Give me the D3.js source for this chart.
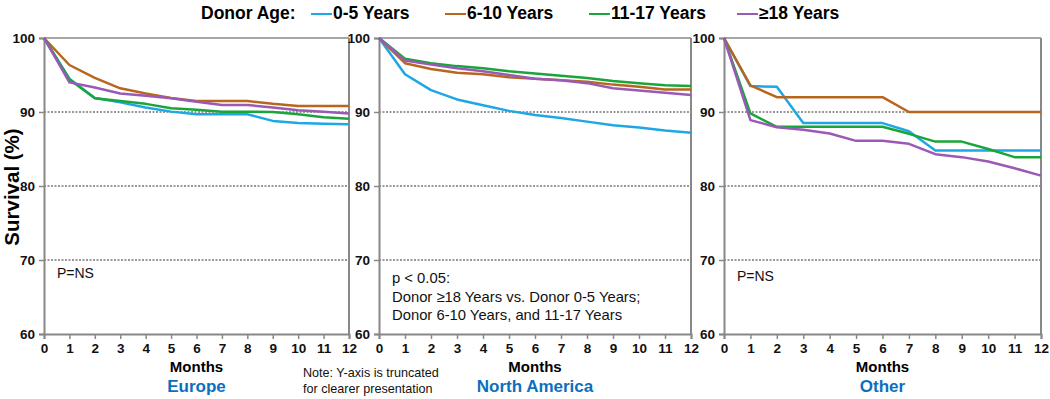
<!DOCTYPE html>
<html>
<head>
<meta charset="utf-8">
<script src="https://cdn.jsdelivr.net/npm/d3@7"></script>
<style>
  body { margin: 0; background: #fff; }
  text { font-family: "Liberation Sans", Arial, sans-serif; }
</style>
</head>
<body>
<div id="chart"></div>
<script>
// months and tick labels
const months = [0,1,2,3,4,5,6,7,8,9,10,11,12];
const yTicks = [60,70,80,90,100];
const groups = ["0-5 Years", "6-10 Years", "11-17 Years", "\u226518 Years"];
const groupColors = ["#1ea7e4", "#b8661e", "#1aa53a", "#9b59b6"];

// Europe survival (%) per month
const europe_0_5   = [100,94.5,91.9,91.3,90.6,90.05,89.7,89.7,89.7,88.8,88.5,88.4,88.35];
const europe_6_10  = [100,96.35,94.6,93.2,92.5,91.9,91.5,91.5,91.5,91.1,90.8,90.8,90.8];
const europe_11_17 = [100,94.4,91.85,91.5,91.1,90.5,90.3,90.05,90.05,90.0,89.7,89.3,89.1];
const europe_18    = [100,94.0,93.3,92.5,92.2,91.85,91.4,90.95,90.95,90.6,90.25,90.05,89.8];

// North America survival (%) per month
const na_0_5   = [100,95.1,92.95,91.7,90.9,90.15,89.6,89.2,88.7,88.2,87.9,87.5,87.2];
const na_6_10  = [100,96.6,95.8,95.3,95.1,94.7,94.5,94.3,94.1,93.7,93.4,93.05,93.05];
const na_11_17 = [100,97.2,96.6,96.2,95.9,95.5,95.2,94.9,94.6,94.2,93.9,93.6,93.5];
const na_18    = [100,96.95,96.4,95.9,95.5,95.0,94.5,94.3,93.9,93.2,92.9,92.6,92.3];

// Other survival (%) per month
const other_0_5   = [100,93.5,93.4,88.5,88.5,88.5,88.5,87.4,84.8,84.8,84.8,84.8,84.8];
const other_6_10  = [100,93.6,92.0,92.0,92.0,92.0,92.0,90.0,90.0,90.0,90.0,90.0,90.0];
const other_11_17 = [100,89.8,88.0,88.0,88.0,88.0,88.0,87.05,86.0,86.0,85.0,83.9,83.9];
const other_18    = [100,88.9,87.95,87.6,87.1,86.1,86.1,85.7,84.3,83.9,83.3,82.4,81.4];

const panels = [
    {name: "Europe", left: 44, right: 349, series: [europe_0_5, europe_6_10, europe_11_17, europe_18],
     note: ["P=NS"], noteY: 278},
    {name: "North America", left: 379, right: 691, series: [na_0_5, na_6_10, na_11_17, na_18],
     note: ["p < 0.05:", "Donor \u226518 Years vs. Donor 0-5 Years;", "Donor 6-10 Years, and 11-17 Years"], noteY: 283},
    {name: "Other", left: 724, right: 1041, series: [other_0_5, other_6_10, other_11_17, other_18],
     note: ["P=NS"], noteY: 281}
];

const width = 1050, height = 399;
const top_y = 38, bottom_y = 334;

const svg = d3.select("#chart")
    .append("svg")
    .attr("width", width)
    .attr("height", height);

// legend
const legend = svg.append("g");
legend.append("text")
    .attr("x", 201).attr("y", 19)
    .attr("font-size", 17.5).attr("font-weight", "bold")
    .text("Donor Age:");
const legendX = [311, 445, 589, 737];
groups.forEach((g, i) => {
    legend.append("line")
        .attr("x1", legendX[i]).attr("x2", legendX[i] + 21)
        .attr("y1", 14).attr("y2", 14)
        .attr("stroke", groupColors[i]).attr("stroke-width", 2);
    legend.append("text")
        .attr("x", legendX[i] + 22).attr("y", 19)
        .attr("font-size", 17.5).attr("font-weight", "bold")
        .text(g);
});

// y axis title
svg.append("text")
    .attr("transform", `translate(19,187) rotate(-90)`)
    .attr("text-anchor", "middle")
    .attr("font-size", 20.5).attr("font-weight", "bold")
    .text("Survival (%)");

panels.forEach(p => {
    let x = d3.scaleLinear().domain([0, 12]).range([p.left, p.right]);
    let y = d3.scaleLinear().domain([60, 100]).range([bottom_y, top_y]);

    let g = svg.append("g");

    // dotted grid lines
    g.selectAll(".grid")
        .data([70, 80, 90])
        .join("line")
        .attr("x1", x(0)).attr("x2", x(12))
        .attr("y1", d => y(d)).attr("y2", d => y(d))
        .attr("stroke", "#333").attr("stroke-width", 1)
        .attr("stroke-dasharray", "2,1.5");

    // frame top and right
    g.append("line")
        .attr("x1", x(0)).attr("x2", x(12))
        .attr("y1", y(100)).attr("y2", y(100))
        .attr("stroke", "#888").attr("stroke-width", 1.5);
    g.append("line")
        .attr("x1", x(12)).attr("x2", x(12))
        .attr("y1", y(100)).attr("y2", y(60))
        .attr("stroke", "#888").attr("stroke-width", 2);

    // axes
    let yAxis = g.append("g")
        .attr("transform", `translate(${x(0)},0)`)
        .call(d3.axisLeft(y).tickValues(yTicks).tickSize(5).tickPadding(4));
    let xAxis = g.append("g")
        .attr("transform", `translate(0,${y(60)})`)
        .call(d3.axisBottom(x).tickValues(months).tickSize(5).tickPadding(4));
    [xAxis, yAxis].forEach(a => {
        a.select(".domain").attr("stroke", "#888").attr("stroke-width", 2);
        a.selectAll(".tick line").attr("stroke", "#888").attr("stroke-width", 1.5);
        a.selectAll("text")
            .attr("font-family", "Liberation Sans, Arial, sans-serif")
            .attr("font-size", 13.5).attr("font-weight", "bold").attr("fill", "#111");
    });

    // survival lines
    let line = d3.line()
        .x((d, i) => x(months[i]))
        .y(d => y(d));
    g.selectAll(".series")
        .data(p.series)
        .join("path")
        .attr("fill", "none")
        .attr("stroke", (d, i) => groupColors[i])
        .attr("stroke-width", 2.5)
        .attr("stroke-linejoin", "round")
        .attr("d", line);

    // annotation
    p.note.forEach((t, i) => {
        g.append("text")
            .attr("x", x(0) + 13).attr("y", p.noteY + i * 18.5)
            .attr("font-size", p.note.length > 1 ? 14.8 : 14)
            .attr("fill", "#111")
            .text(t);
    });

    // labels
    let cx = (x(0) + x(12)) / 2;
    g.append("text")
        .attr("x", cx).attr("y", 372)
        .attr("text-anchor", "middle")
        .attr("font-size", 15).attr("font-weight", "bold")
        .text("Months");
    g.append("text")
        .attr("x", cx).attr("y", 392)
        .attr("text-anchor", "middle")
        .attr("font-size", 17).attr("font-weight", "bold")
        .attr("fill", "#0b6fc0")
        .text(p.name);
});

// note under the first panel
svg.append("text")
    .attr("x", 303).attr("y", 377)
    .attr("font-size", 12.6).attr("fill", "#111")
    .text("Note: Y-axis is truncated");
svg.append("text")
    .attr("x", 303).attr("y", 393)
    .attr("font-size", 12.6).attr("fill", "#111")
    .text("for clearer presentation");
</script>
</body>
</html>
